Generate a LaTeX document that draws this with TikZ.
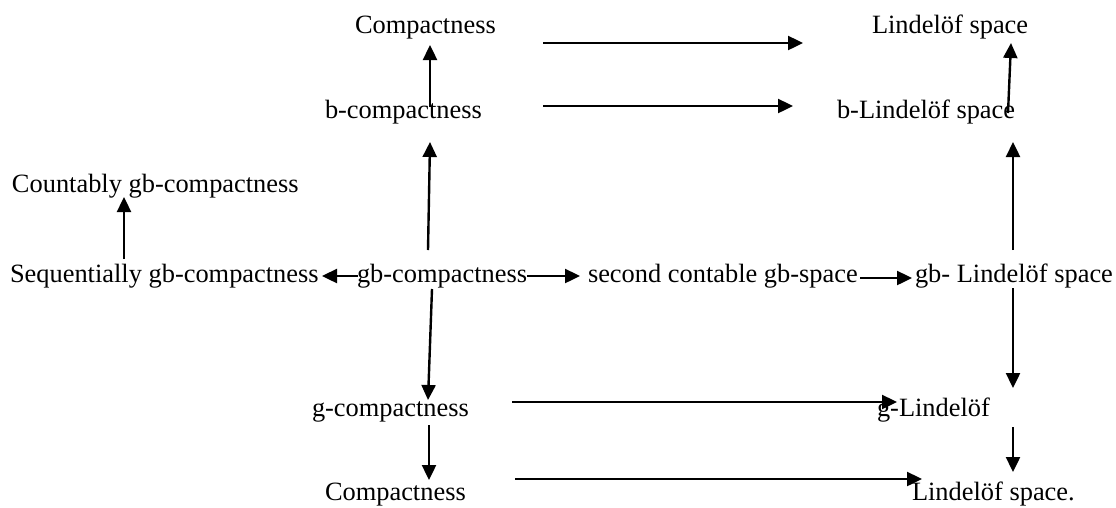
\documentclass[tikz,border=0pt]{standalone}
\usepackage{fontspec}
\setmainfont{Liberation Serif}
\usetikzlibrary{arrows.meta}
\begin{document}
\begin{tikzpicture}[x=1pt,y=-1pt,
  lbl/.style={anchor=base west,inner sep=0pt,outer sep=0pt,font=\fontsize{26.4}{30}\selectfont},
  imp/.style={line width=2.4pt,-{Triangle[length=15pt,width=14pt]}}]
\useasboundingbox (0,0) rectangle (1116,507);
% labels
\node[lbl] (c1)  at (355,33)  {Compactness};
\node[lbl] (l1)  at (872,33)  {Lindelöf space};
\node[lbl] (bc)  at (325,118) {b-compactness};
\node[lbl] (bl)  at (837,118) {b-Lindelöf space};
\node[lbl] (cgb) at (12,192)  {Countably gb-compactness};
\node[lbl] (sgb) at (10,282)  {Sequentially gb-compactness};
\node[lbl] (gb)  at (357,282) {gb-compactness};
\node[lbl] (sc)  at (588,282) {second contable gb-space};
\node[lbl] (gbl) at (915,282) {gb- Lindelöf space};
\node[lbl] (gc)  at (312,416) {g-compactness};
\node[lbl] (gl)  at (877,416) {g-Lindelöf};
\node[lbl] (c2)  at (325,500) {Compactness};
\node[lbl] (l2)  at (912,500) {Lindelöf space.};
% arrow end points
\coordinate (a1s) at (543,43);   \coordinate (a1e) at (803,43);
\coordinate (a2s) at (543,106);  \coordinate (a2e) at (793,106);
\coordinate (a3s) at (430,107);  \coordinate (a3e) at (430,45);
\coordinate (a4s) at (1008,113); \coordinate (a4e) at (1011,43);
\coordinate (a5s) at (428,250);  \coordinate (a5e) at (430,142);
\coordinate (a6s) at (1013,250); \coordinate (a6e) at (1013,142);
\coordinate (a7s) at (124,259);  \coordinate (a7e) at (124,197);
\coordinate (a8s) at (358,276);  \coordinate (a8e) at (322,276);
\coordinate (a9s) at (527,276);  \coordinate (a9e) at (580,276);
\coordinate (a10s) at (860,278); \coordinate (a10e) at (912,278);
\coordinate (a11s) at (1013,288);\coordinate (a11e) at (1013,388);
\coordinate (a12s) at (432,289); \coordinate (a12e) at (428,400);
\coordinate (a13s) at (512,402); \coordinate (a13e) at (897,402);
\coordinate (a14s) at (429,425); \coordinate (a14e) at (429,480);
\coordinate (a15s) at (1013,427);\coordinate (a15e) at (1013,472);
\coordinate (a16s) at (515,479); \coordinate (a16e) at (922,479);
% implications
\foreach \i in {1,...,16} \draw[imp] (a\i s) -- (a\i e);
\end{tikzpicture}
\end{document}
